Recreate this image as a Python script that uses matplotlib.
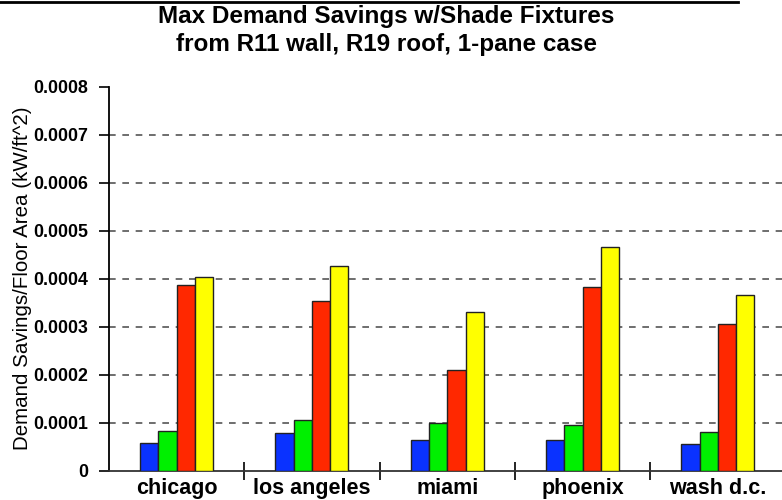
import numpy as np
import matplotlib.pyplot as plt
from matplotlib.lines import Line2D

plt.rcParams['font.family'] = ['Liberation Sans', 'DejaVu Sans']

cities = ['chicago', 'los angeles', 'miami', 'phoenix', 'wash d.c.']
s1 = [0.000057, 0.000078, 0.000065, 0.000065, 0.000055]   # blue
s2 = [0.000083, 0.000106, 0.000099, 0.000095, 0.000080]   # green
s3 = [0.000387, 0.000354, 0.000209, 0.000383, 0.000306]   # red
s4 = [0.000403, 0.000427, 0.000331, 0.000465, 0.000367]   # yellow
colors = ['#0a32ff', '#00f000', '#ff2800', '#ffff00']

fig = plt.figure(figsize=(7.82, 5.0), dpi=100)
# axes from left spine (x=109) to the last category edge (beyond figure)
ax = fig.add_axes([109 / 782, 1 - 470.7 / 500, 676.5 / 782, 384 / 500])

x = np.arange(len(cities))
w = 0.135
for i, (vals, c) in enumerate(zip([s1, s2, s3, s4], colors)):
    ax.bar(x + (i - 1.5) * w, vals, w, color=c, edgecolor='#222222',
           linewidth=1.0, zorder=3)

ax.set_xlim(-0.5, len(cities) - 0.5)
ax.set_ylim(0, 0.0008)
ax.set_yticks(np.arange(0, 0.00081, 0.0001))
ax.set_yticklabels(['0'] + ['%.4f' % v for v in np.arange(0.0001, 0.00081, 0.0001)],
                   fontweight='bold', fontsize=12.8)
ax.set_xticks(x + 0.5)
ax.set_xticklabels([])
ax.set_xticks(x, minor=True)
ax.set_xticklabels(cities, minor=True, fontweight='bold', fontsize=15.5)
ax.tick_params(axis='x', which='major', direction='inout', length=13, width=1.2)
ax.tick_params(axis='x', which='minor', length=0, pad=5)
ax.tick_params(axis='y', direction='out', length=7, width=1.2, pad=8)

for v in np.arange(0.0001, 0.00071, 0.0001):
    ax.axhline(v, color='#555555', linestyle=(0, (4, 4)), linewidth=1.2, zorder=1)

ax.spines['top'].set_visible(False)
ax.spines['right'].set_visible(False)
ax.spines['left'].set_linewidth(1.3)
ax.spines['bottom'].set_linewidth(1.3)
ax.spines['bottom'].set_color('#333333')

ax.set_ylabel('Demand Savings/Floor Area (kW/ft^2)', fontsize=14.8, labelpad=1)

fig.text(0.494, 1 - 17 / 500, 'Max Demand Savings w/Shade Fixtures',
         ha='center', va='center', fontsize=17.5, fontweight='bold')
fig.text(0.494, 1 - 44 / 500, 'from R11 wall, R19 roof, 1-pane case',
         ha='center', va='center', fontsize=17.5, fontweight='bold')
fig.add_artist(Line2D([0, 738 / 782], [1 - 1.5 / 500, 1 - 1.5 / 500],
                      color='black', linewidth=2, transform=fig.transFigure))

fig.savefig('out.png', dpi=100)
